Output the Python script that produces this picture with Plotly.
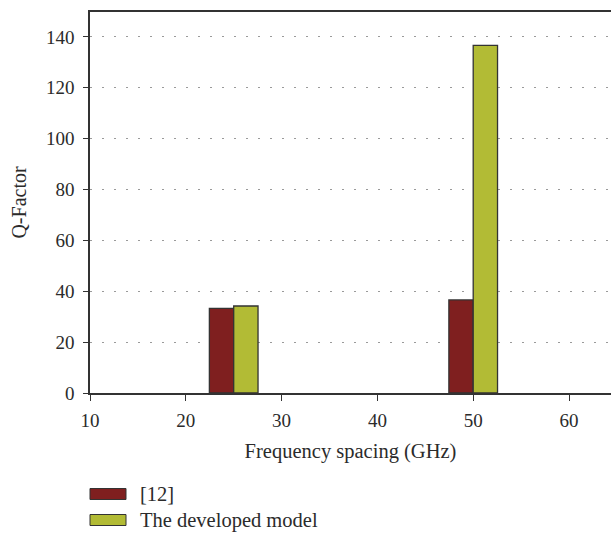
import plotly.graph_objects as go

# Frequency spacing (GHz) and Q-factor per model
spacing = [25, 50]
q_ref12 = [33.3, 36.6]
q_developed = [34.2, 136.7]
series_names = ["[12]", "The developed model"]
series_colors = ["#7f1f1f", "#b2bb35"]

y_ticks = [0, 20, 40, 60, 80, 100, 120, 140]
x_ticks = [10, 20, 30, 40, 50, 60]

W, H = 611, 534
ML, MR, MT, MB = 90, 0, 12, 141
bar_w = 2.54
font_family = "Liberation Serif, DejaVu Serif, serif"
ink = "#2b2b2b"

fig = go.Figure()
for vals, name, color, off in zip([q_ref12, q_developed], series_names,
                                  series_colors, [-bar_w, 0]):
    fig.add_trace(go.Bar(
        x=spacing, y=vals, name=name, width=bar_w, offset=off,
        marker=dict(color=color, line=dict(color="#333333", width=1.3)),
        showlegend=False,
    ))

# Legend drawn as wide swatches below the axis
plot_w = W - ML - MR
plot_h = H - MT - MB
legend_rows_px = [494, 520]
for name, color, row in zip(series_names, series_colors, legend_rows_px):
    yc = (H - MB - row) / plot_h
    fig.add_shape(type="rect", xref="paper", yref="paper",
                  x0=0, x1=36 / plot_w,
                  y0=yc - 5.5 / plot_h, y1=yc + 5.5 / plot_h,
                  fillcolor=color, line=dict(color="#333333", width=1))
    fig.add_annotation(xref="paper", yref="paper", x=48 / plot_w, y=yc,
                       text=name, showarrow=False, xanchor="left",
                       yanchor="middle",
                       font=dict(family=font_family, size=20.5, color=ink))

fig.update_layout(
    width=W, height=H,
    margin=dict(l=ML, r=MR, t=MT, b=MB),
    paper_bgcolor="white", plot_bgcolor="white",
    barmode="overlay",
    font=dict(family=font_family, size=19, color=ink),
    showlegend=False,
    xaxis=dict(
        range=[10, 10 + plot_w / 9.58], tickvals=x_ticks,
        showgrid=False, zeroline=False,
        showline=True, linecolor="#333333", linewidth=1.5, mirror=True,
        ticks="outside", ticklen=6, tickcolor="#333333", tickwidth=1.2,
        ticklabelstandoff=3,
        title=dict(text="Frequency spacing (GHz)", standoff=14,
                   font=dict(size=20.5)),
    ),
    yaxis=dict(
        range=[0, 149.8], tickvals=y_ticks,
        showgrid=True, gridcolor="#9a9a9a", gridwidth=1.3,
        griddash="1.5px,10.5px",
        zeroline=False,
        showline=True, linecolor="#333333", linewidth=1.5,
        ticks="outside", ticklen=5, tickcolor="#333333", tickwidth=1.2,
        ticklabelstandoff=5,
        title=dict(text="Q-Factor", standoff=14, font=dict(size=20)),
    ),
)

fig.write_html("out.html")
